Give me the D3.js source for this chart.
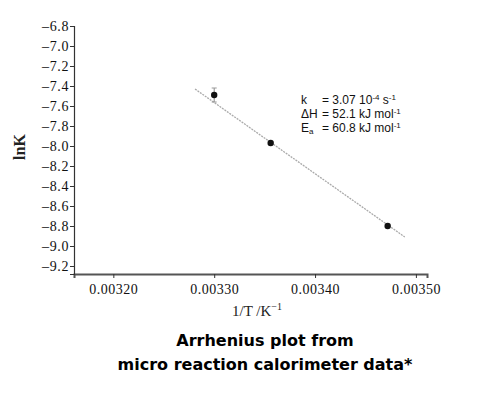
<!DOCTYPE html>
<html>
<head>
<meta charset="utf-8">
<script src="https://cdn.jsdelivr.net/npm/d3@7"></script>
<style>
body { margin: 0; background: #fff; }
</style>
</head>
<body>
<div id="chart"></div>
<script>
const W = 492, H = 397;
const margin = {top: 26, right: 65, bottom: 123, left: 74};
const width = W - margin.left - margin.right;
const height = H - margin.top - margin.bottom;

// measured points (1/T, lnK) and error on lnK
var invT = [0.00330, 0.003356, 0.003472];
var lnK = [-7.49, -7.97, -8.80];
var lnKErr = [0.07, 0, 0];
// fitted line ends
var fitX = [0.003281, 0.003489];
var fitY = [-7.43, -8.91];
var xTicks = [0.00320, 0.00330, 0.00340, 0.00350];
var yTicks = [-6.8, -7.0, -7.2, -7.4, -7.6, -7.8, -8.0, -8.2, -8.4, -8.6, -8.8, -9.0, -9.2];

var xScale = d3.scaleLinear().domain([0.003161, 0.003511]).range([0, width]);
var yScale = d3.scaleLinear().domain([-6.8, -9.28]).range([0, height]);

var svg = d3.select("#chart").append("svg")
    .attr("width", W)
    .attr("height", H)
    .append("g")
    .attr("transform", "translate(" + margin.left + "," + margin.top + ")");

var xAxis = d3.axisBottom(xScale).tickValues(xTicks).tickFormat(d3.format(".5f")).tickSizeOuter(0).tickSize(4);
var yAxis = d3.axisLeft(yScale).tickValues(yTicks).tickFormat(d => d.toFixed(1).replace("-", "\u2013")).tickSizeOuter(0).tickSize(4);

var gx = svg.append("g")
    .attr("transform", "translate(0," + height + ")")
    .call(xAxis);
gx.select(".domain").attr("stroke", "#555").attr("stroke-width", 2);
gx.selectAll(".tick line").attr("stroke", "#333");
gx.selectAll(".tick text")
    .attr("dy", "0.95em")
    .attr("fill", "#111")
    .style("font-family", "'Liberation Serif', 'Times New Roman', serif")
    .style("font-size", "14px")
    .style("letter-spacing", "0.5px");

var gy = svg.append("g").call(yAxis);
gy.select(".domain").attr("stroke", "#333").attr("stroke-width", 1.2);
gy.selectAll(".tick line").attr("stroke", "#333");
gy.selectAll(".tick text")
    .attr("x", -5)
    .attr("fill", "#111")
    .style("font-family", "'Liberation Serif', 'Times New Roman', serif")
    .style("font-size", "14px")
    .style("letter-spacing", "0.6px");

// fit line
svg.append("line")
    .attr("x1", xScale(fitX[0])).attr("y1", yScale(fitY[0]))
    .attr("x2", xScale(fitX[1])).attr("y2", yScale(fitY[1]))
    .attr("stroke", "#aaa")
    .attr("stroke-width", 1.3)
    .attr("stroke-dasharray", "2,1");

// error bars
invT.forEach(function(t, i) {
    if (lnKErr[i] > 0) {
        var x = xScale(t);
        svg.append("line")
            .attr("x1", x).attr("x2", x)
            .attr("y1", yScale(lnK[i] + lnKErr[i])).attr("y2", yScale(lnK[i] - lnKErr[i]))
            .attr("stroke", "#888").attr("stroke-width", 1);
        [lnK[i] + lnKErr[i], lnK[i] - lnKErr[i]].forEach(function(v) {
            svg.append("line")
                .attr("x1", x - 2.5).attr("x2", x + 2.5)
                .attr("y1", yScale(v)).attr("y2", yScale(v))
                .attr("stroke", "#999").attr("stroke-width", 1);
        });
    }
});

svg.selectAll(".pt").data(invT).enter().append("circle")
    .attr("class", "pt")
    .attr("cx", d => xScale(d))
    .attr("cy", (d, i) => yScale(lnK[i]))
    .attr("r", 3.2)
    .attr("fill", "#111");

// annotation
var nx = 301 - margin.left, ex = 322 - margin.left;
function noteLine(y) {
    return svg.append("text")
        .attr("font-family", "Liberation Sans, Arial, sans-serif")
        .attr("font-size", 12)
        .attr("fill", "#111")
        .attr("y", y - margin.top);
}
var note = noteLine(104);
note.append("tspan").attr("x", nx).text("k");
note.append("tspan").attr("x", ex).text("= 3.07 10");
note.append("tspan").attr("font-size", 8).attr("dy", -4).text("-4");
note.append("tspan").attr("dy", 4).text(" s");
note.append("tspan").attr("font-size", 8).attr("dy", -4).text("-1");

var note2 = noteLine(118);
note2.append("tspan").attr("x", nx).text("\u0394H");
note2.append("tspan").attr("x", ex).text("= 52.1 kJ mol");
note2.append("tspan").attr("font-size", 8).attr("dy", -4).text("-1");

var note3 = noteLine(132);
note3.append("tspan").attr("x", nx).text("E");
note3.append("tspan").attr("font-size", 8).attr("dy", 2).text("a");
note3.append("tspan").attr("x", ex).attr("dy", -2).text("= 60.8 kJ mol");
note3.append("tspan").attr("font-size", 8).attr("dy", -4).text("-1");

// axis titles
svg.append("text")
    .attr("transform", "translate(" + (25 - margin.left) + "," + (147 - margin.top) + ") rotate(-90)")
    .attr("text-anchor", "middle")
    .attr("font-family", "Liberation Serif, serif")
    .attr("font-size", 16)
    .attr("font-weight", "bold")
    .attr("fill", "#222")
    .text("lnK");

var xl = svg.append("text")
    .attr("x", 257 - margin.left)
    .attr("y", 316 - margin.top)
    .attr("text-anchor", "middle")
    .attr("font-family", "Liberation Serif, serif")
    .attr("font-size", 15)
    .attr("fill", "#222");
xl.append("tspan").text("1/T /K");
xl.append("tspan").attr("font-size", 10).attr("dy", -6).text("\u22121");

// caption
var cap = svg.append("text")
    .attr("text-anchor", "middle")
    .attr("font-family", "DejaVu Sans, Verdana, sans-serif")
    .attr("font-weight", "bold")
    .attr("font-size", 16)
    .attr("fill", "#000");
cap.append("tspan").attr("x", 265 - margin.left).attr("y", 346 - margin.top).text("Arrhenius plot from");
cap.append("tspan").attr("x", 265 - margin.left).attr("y", 370 - margin.top).text("micro reaction calorimeter data*");
</script>
</body>
</html>
